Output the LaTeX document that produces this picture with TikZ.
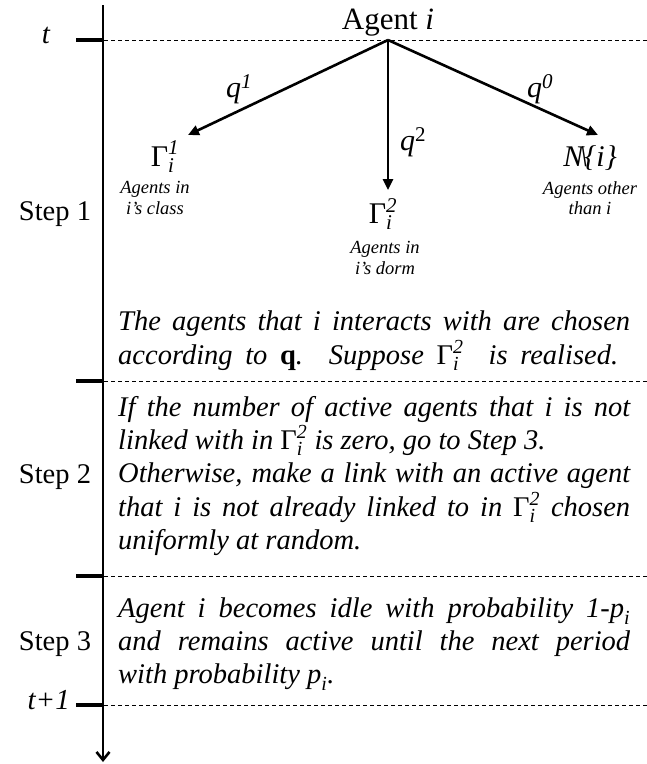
\documentclass[tikz,border=0pt]{standalone}
\usepackage{amsmath}
\usepackage{fontspec}
\setmainfont{Liberation Serif}
\usetikzlibrary{arrows.meta}
\newcommand\Gm[1]{$\text{\upshape Γ}_{\text{\itshape i}}^{\text{\itshape #1}}$}
\newcommand\pii{$\text{\itshape p}_{\text{\itshape i}}$}
\begin{document}
\begin{tikzpicture}[x=1pt,y=-1pt,
  axisline/.style={line width=2.6pt},
  tickmark/.style={line width=3.5pt},
  guide/.style={line width=0.9pt, dash pattern=on 4pt off 3pt},
  branch/.style={line width=2.6pt, -{Triangle[length=11pt,width=10pt]}},
  body/.style={anchor=base west, inner sep=0pt, font=\fontsize{28.5}{30}\selectfont\itshape},
  steplabel/.style={anchor=base, inner sep=0pt, font=\fontsize{28.5}{30}\selectfont},
  small/.style={font=\fontsize{18.5}{20.5}\selectfont\itshape, align=center, inner sep=0pt},
  big/.style={font=\fontsize{30}{32}\selectfont, inner sep=0pt}]
\useasboundingbox (0,0) rectangle (647,764);
% time axis
\draw[axisline, -{Straight Barb[length=8pt,width=13pt]}] (103,5) -- (103,762);
\foreach \yy in {40,381,576,705}{
  \draw[tickmark] (76,\yy) -- (104,\yy);
  \draw[guide] (104,\yy) -- (647,\yy);
}
\node[steplabel, font=\fontsize{29}{30}\selectfont\itshape] (tlab) at (46,43) {t};
\node[steplabel, anchor=base east, font=\fontsize{29}{30}\selectfont\itshape] (t1lab) at (70,709) {t+1};
\node[steplabel] (s1) at (55,220) {Step 1};
\node[steplabel] (s2) at (55,483) {Step 2};
\node[steplabel] (s3) at (55,650) {Step 3};
% tree
\node[steplabel, font=\fontsize{31}{32}\selectfont] (agent) at (388,29) {Agent \textit{i}};
\coordinate (apex) at (388,40);
\coordinate (tip1) at (188,135);
\coordinate (tip2) at (388,190);
\coordinate (tip0) at (598,135);
\draw[branch] (apex) -- (tip1);
\draw[branch] (apex) -- (tip2);
\draw[branch] (apex) -- (tip0);
\node[big] (q1) at (239,89) {$\text{\itshape q}^{\text{\itshape 1}}$};
\node[big] (q2) at (413,142) {$\text{\itshape q}^{\text{2}}$};
\node[big] (q0) at (540,89) {$\text{\itshape q}^{\text{\itshape 0}}$};
\node[big] (g1) at (165,157) {\Gm{1}};
\node[small] (g1t) at (155,198) {Agents in\\i’s class};
\node[big] (g2) at (383,214) {\Gm{2}};
\node[small] (g2t) at (385,258) {Agents in\\i’s dorm};
\node[big] (n0) at (590,158) {\itshape N\kern-0.12em\textbackslash\kern-0.12em\{i\}};
\node[small] (n0t) at (590,198) {Agents other\\than i};
% step 1 text
\node[body] (a1) at (118,330) {\makebox[512pt][s]{The agents that i interacts with are chosen}};
\node[body] (a2) at (118,364) {\makebox[500pt][s]{according to \textbf{\upshape q}. Suppose \Gm{2}\ \ is realised.}};
% step 2 text
\node[body] (b1) at (118,416) {\makebox[512pt][s]{If the number of active agents that i is not}};
\node[body] (b2) at (118,449) {linked with in \Gm{2} is zero, go to Step 3.};
\node[body] (b3) at (118,482) {\makebox[512pt][s]{Otherwise, make a link with an active agent}};
\node[body] (b4) at (118,516) {\makebox[512pt][s]{that i is not already linked to in \Gm{2} chosen}};
\node[body] (b5) at (118,549) {uniformly at random.};
% step 3 text
\node[body] (c1) at (118,617) {\makebox[512pt][s]{Agent i becomes idle with probability 1-\pii}};
\node[body] (c2) at (118,650) {\makebox[512pt][s]{and remains active until the next period}};
\node[body] (c3) at (118,683) {with probability \pii.};
\end{tikzpicture}
\end{document}
